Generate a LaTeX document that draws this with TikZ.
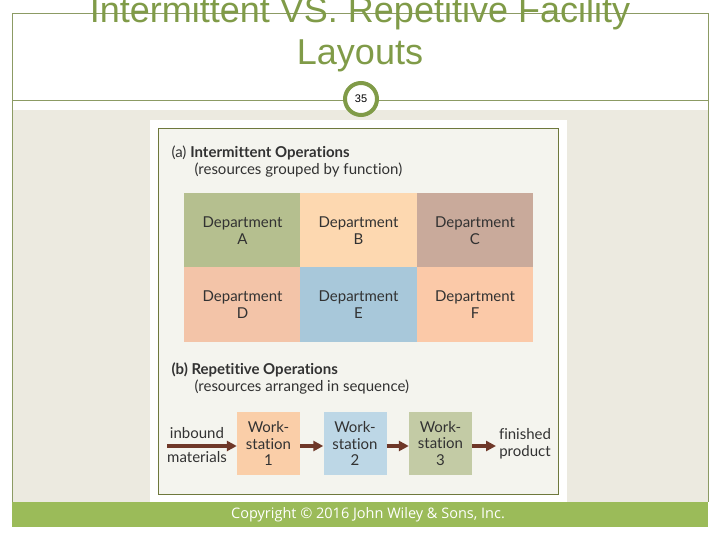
\documentclass[tikz,border=0pt]{standalone}
\usepackage{fontspec}
\setmainfont{Liberation Sans}
\newfontfamily\figfont[Ligatures=NoCommon]{Lato}
\newfontfamily\footfont{Open Sans}
\usetikzlibrary{positioning,arrows.meta}

\definecolor{titleolive}{RGB}{128,155,72}
\definecolor{frameline}{RGB}{140,155,100}
\definecolor{slidebeige}{RGB}{236,234,224}
\definecolor{panelfill}{RGB}{244,244,238}
\definecolor{panelline}{RGB}{110,120,60}
\definecolor{footgreen}{RGB}{155,187,89}
\definecolor{textgrey}{RGB}{50,50,50}
\definecolor{flowbrown}{RGB}{110,55,40}
\definecolor{deptA}{RGB}{181,191,143}
\definecolor{deptB}{RGB}{253,216,176}
\definecolor{deptC}{RGB}{201,170,155}
\definecolor{deptD}{RGB}{243,196,168}
\definecolor{deptE}{RGB}{168,200,218}
\definecolor{deptF}{RGB}{251,201,168}
\definecolor{wsone}{RGB}{250,206,168}
\definecolor{wstwo}{RGB}{189,215,230}
\definecolor{wsthree}{RGB}{195,203,165}

\tikzset{
  deptbox/.style={minimum width=116.5, minimum height=74.5, inner sep=0pt,
    align=center, text=textgrey, font=\figfont\fontsize{15}{17}\selectfont},
  wsbox/.style={minimum width=63, minimum height=63, inner sep=0pt,
    align=center, text=textgrey, font=\figfont\fontsize{15}{16.5}\selectfont},
  flowlabel/.style={align=center, text=textgrey, font=\figfont\fontsize{15}{16.5}\selectfont},
  parthead/.style={anchor=west, text=textgrey, font=\figfont\fontsize{15}{17}\selectfont},
  flow/.style={draw=flowbrown, line width=3.2pt, -{Triangle[length=10pt,width=10pt]}}
}

\begin{document}
\begin{tikzpicture}[x=1pt,y=-1pt]
\useasboundingbox (0,0) rectangle (720,540);

% slide frame
\fill[slidebeige] (12,110) rectangle (708,502);
\draw[frameline] (12,502) -- (12,13) -- (708,13) -- (708,502);
\draw[frameline] (12,100) -- (708,100);

% title
\node[text=titleolive, align=center, font=\fontsize{36}{42}\selectfont] (title) at (360,34)
  {Intermittent VS. Repetitive Facility\\Layouts};

% page number
\node[circle, draw=titleolive, line width=4pt, fill=white, minimum size=32pt, inner sep=0pt,
  font=\fontsize{11}{11}\selectfont] (pagenum) at (361,99) {35};

% figure panel
\fill[white] (150,120) rectangle (567,502);
\draw[panelline, fill=panelfill] (158,128) rectangle (558,494);

% (a) intermittent
\node[parthead] (heada) at (168,153) {(a) \textbf{Intermittent Operations}};
\node[parthead] (suba) at (191,170) {(resources grouped by function)};

\node[deptbox, fill=deptA] (depA) at (242.5,230.5) {Department\\A};
\node[deptbox, fill=deptB] (depB) at (358.5,230.5) {Department\\B};
\node[deptbox, fill=deptC] (depC) at (475,230.5) {Department\\C};
\node[deptbox, fill=deptD] (depD) at (242.5,304.5) {Department\\D};
\node[deptbox, fill=deptE] (depE) at (358.5,304.5) {Department\\E};
\node[deptbox, fill=deptF] (depF) at (475,304.5) {Department\\F};

% (b) repetitive
\node[parthead] (headb) at (168,370) {\textbf{(b) Repetitive Operations}};
\node[parthead] (subb) at (191,387) {(resources arranged in sequence)};

\node[wsbox, fill=wsone] (ws1) at (268.5,443.5) {Work-\\station\\1};
\node[wsbox, fill=wstwo] (ws2) at (355,443.5) {Work-\\station\\2};
\node[wsbox, fill=wsthree] (ws3) at (440.5,443.5) {Work-\\station\\3};

\coordinate (inflow) at (167,446);
\coordinate (outflow) at (496,446);
\node[flowlabel] (inlabel) at (197,433) {inbound};
\node[flowlabel] (matlabel) at (197,457) {materials};
\node[flowlabel] (outlabel) at (525,444) {finished\\product};

\draw[flow] (inflow) -- (inflow -| ws1.west);
\draw[flow] (ws1.east |- inflow) -- (ws2.west |- inflow);
\draw[flow] (ws2.east |- inflow) -- (ws3.west |- inflow);
\draw[flow] (ws3.east |- inflow) -- (outflow);

% footer
\fill[footgreen] (12,502) rectangle (708,527);
\node[text=white, font=\footfont\fontsize{14.5}{14.5}\selectfont] (copy) at (368,515)
  {Copyright © 2016 John Wiley \& Sons, Inc.};
\end{tikzpicture}
\end{document}
